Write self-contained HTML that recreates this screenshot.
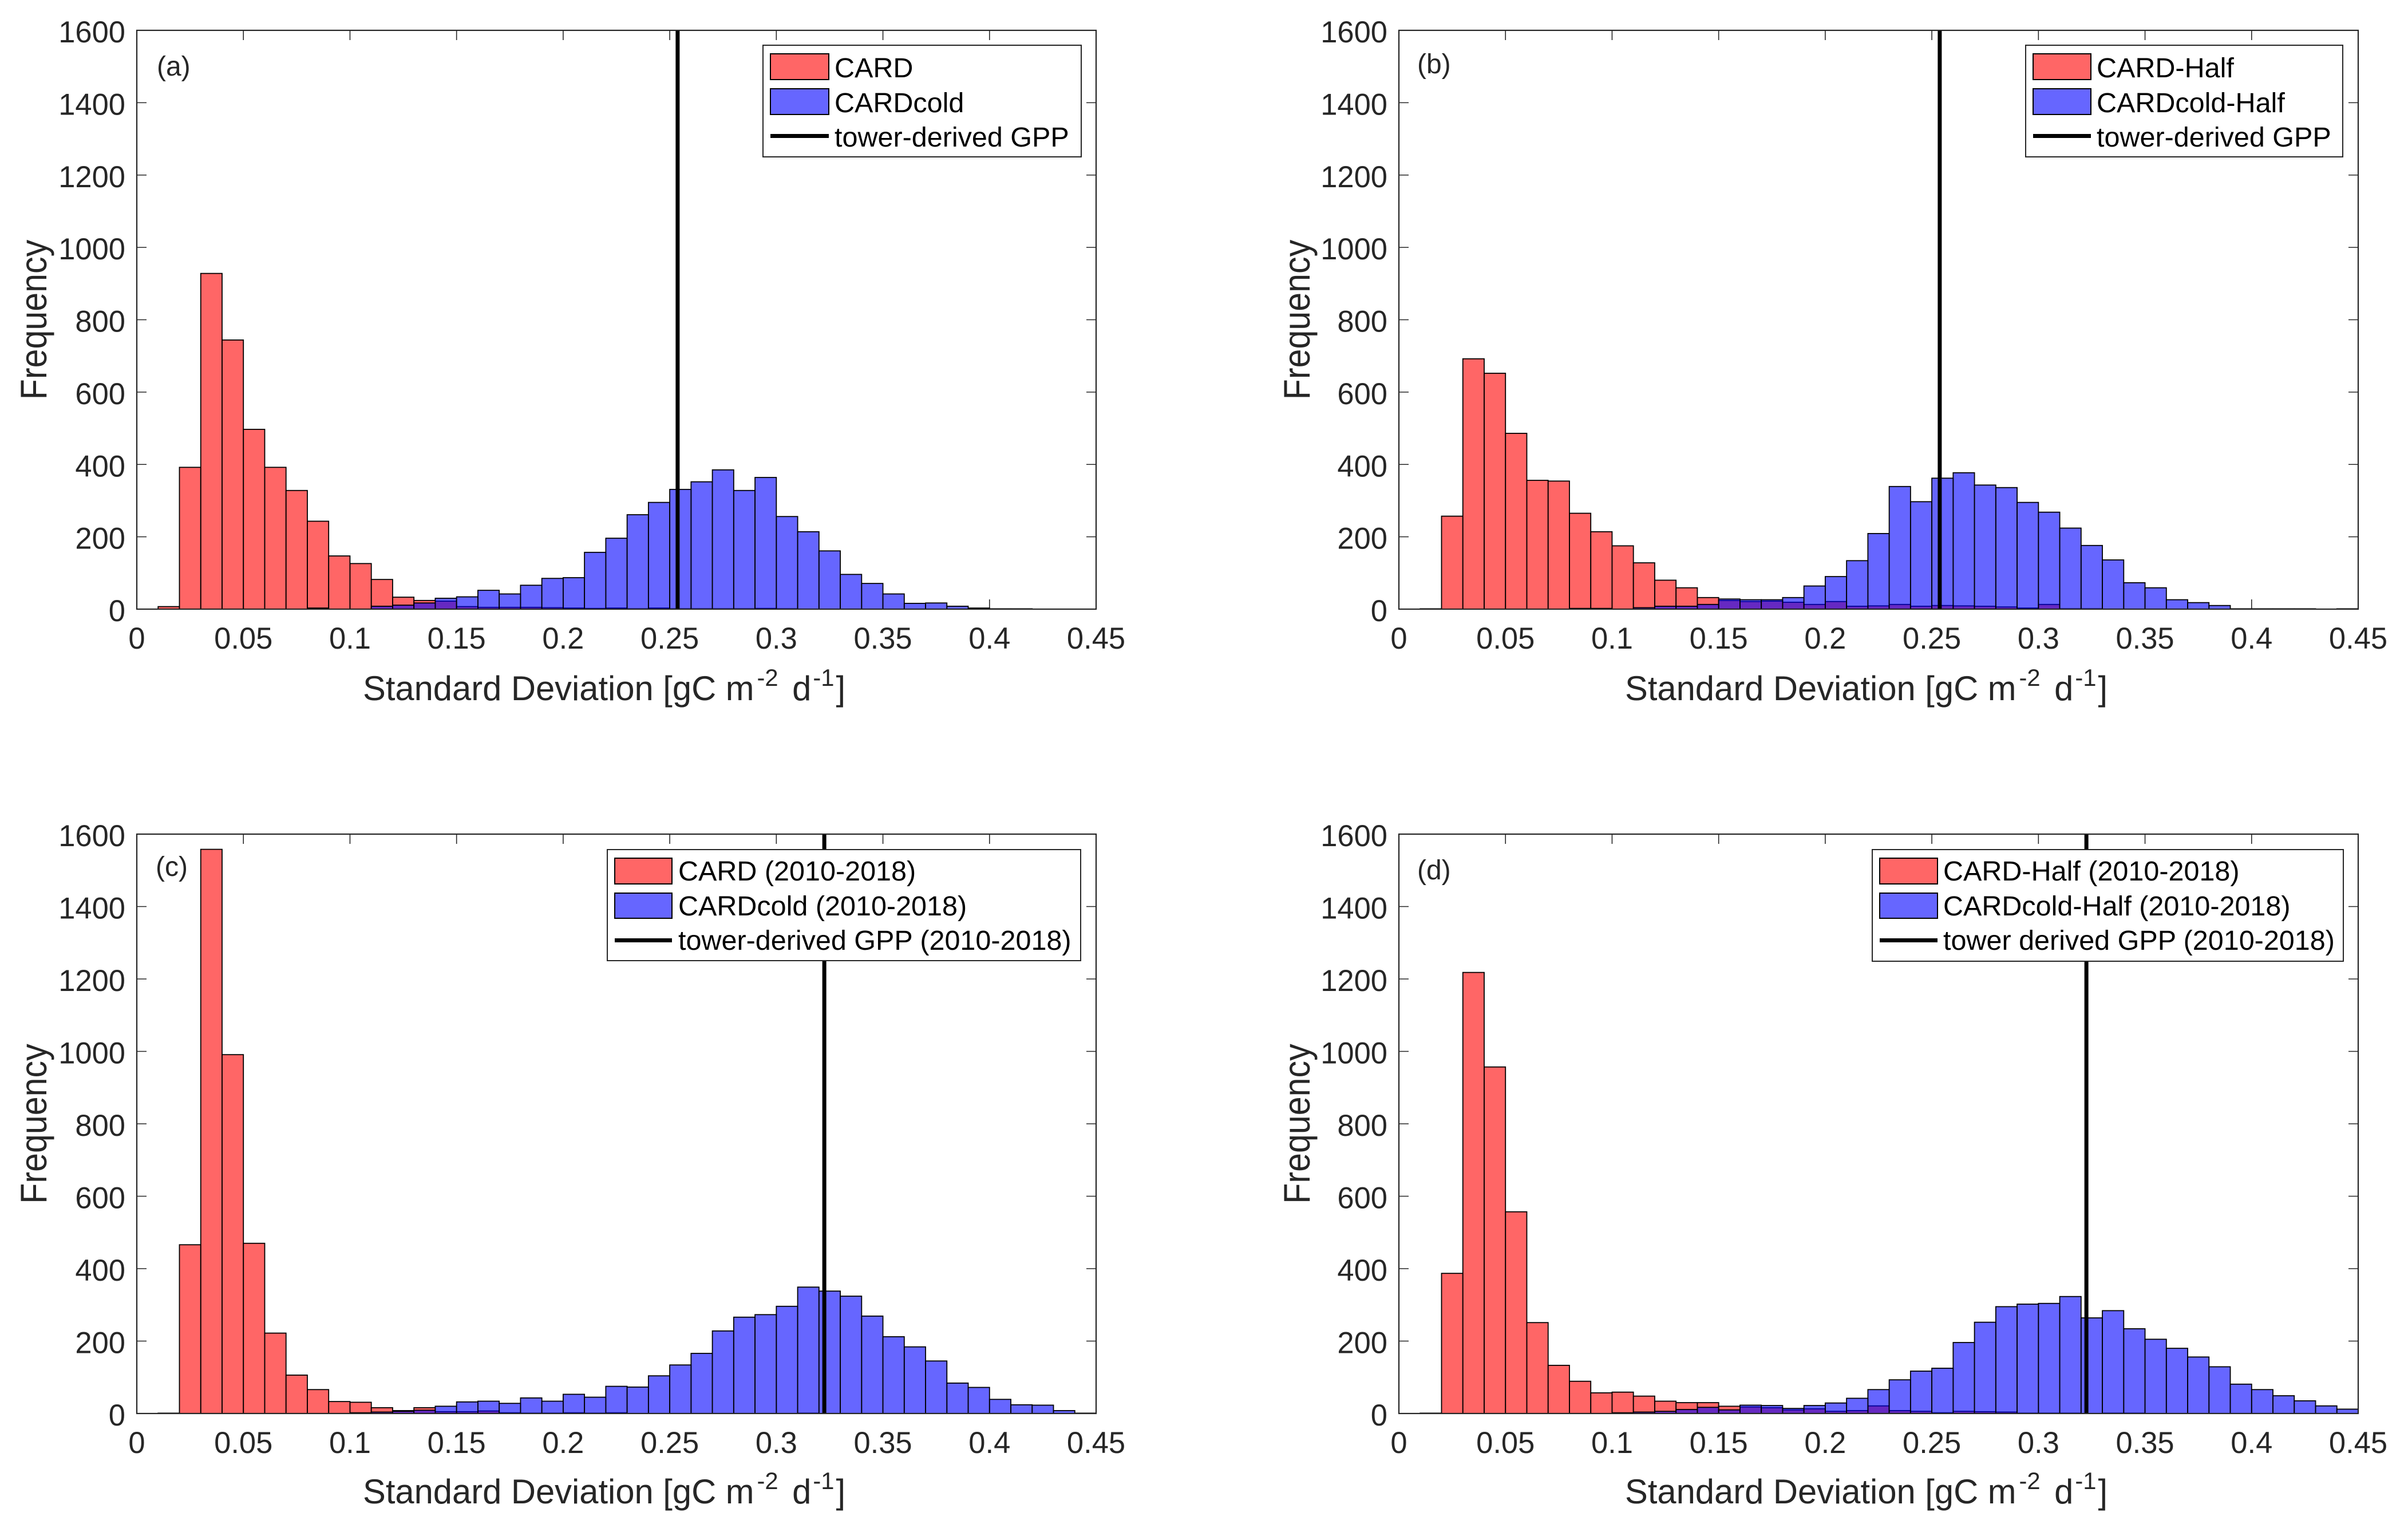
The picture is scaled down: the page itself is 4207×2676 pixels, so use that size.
<!DOCTYPE html>
<html lang="en">
<head>
<meta charset="utf-8">
<title>Standard deviation histograms</title>
<style>
html,body{margin:0;padding:0;background:#fff;}
svg{display:block;font-family:"Liberation Sans",sans-serif;}
.axis-text{fill:#262626;}
.legend-text{fill:#000;font-size:48.5px;}
.title-text{fill:#262626;font-size:60px;}
</style>
</head>
<body>
<svg id="figure" xmlns="http://www.w3.org/2000/svg" width="4207" height="2676" viewBox="0 0 4207 2676">
<rect x="0" y="0" width="4207" height="2676" fill="#fff"/>

<g id="panel-a">
  <g id="plot-a"></g>
  <text class="axis-text" x="274" y="132" font-size="48">(a)</text>
  <text class="axis-text" transform="translate(81,558.5) rotate(-90) scale(0.91,1)" text-anchor="middle" font-size="65">Frequency</text>
  <text class="title-text" transform="translate(634,1223) scale(0.995,1)">Standard Deviation [gC m<tspan dx="5" dy="-25" font-size="42">-2</tspan><tspan dx="8" dy="25"> d</tspan><tspan dx="3" dy="-25" font-size="42">-1</tspan><tspan dx="3" dy="25">]</tspan></text>
  <g>
    <rect x="1333" y="79" width="556" height="195" fill="#fff" stroke="#262626" stroke-width="2"/>
    <rect x="1346" y="94" width="102" height="45" fill="#ff6666" stroke="#000" stroke-width="2"/>
    <rect x="1346" y="155" width="102" height="45" fill="#6666ff" stroke="#000" stroke-width="2"/>
    <rect x="1346" y="234" width="102" height="7" fill="#000"/>
    <text class="legend-text" x="1458" y="135">CARD</text>
    <text class="legend-text" x="1458" y="196">CARDcold</text>
    <text class="legend-text" x="1458" y="256">tower-derived GPP</text>
  </g>
</g>

<g id="panel-b">
  <g id="plot-b"></g>
  <text class="axis-text" x="2476" y="128" font-size="48">(b)</text>
  <text class="axis-text" transform="translate(2288,558.5) rotate(-90) scale(0.91,1)" text-anchor="middle" font-size="65">Frequency</text>
  <text class="title-text" transform="translate(2839,1223) scale(0.995,1)">Standard Deviation [gC m<tspan dx="5" dy="-25" font-size="42">-2</tspan><tspan dx="8" dy="25"> d</tspan><tspan dx="3" dy="-25" font-size="42">-1</tspan><tspan dx="3" dy="25">]</tspan></text>
  <g>
    <rect x="3539" y="79" width="554" height="195" fill="#fff" stroke="#262626" stroke-width="2"/>
    <rect x="3552" y="94" width="101" height="45" fill="#ff6666" stroke="#000" stroke-width="2"/>
    <rect x="3552" y="155" width="101" height="45" fill="#6666ff" stroke="#000" stroke-width="2"/>
    <rect x="3552" y="234" width="101" height="7" fill="#000"/>
    <text class="legend-text" x="3663" y="135">CARD-Half</text>
    <text class="legend-text" x="3663" y="196">CARDcold-Half</text>
    <text class="legend-text" x="3663" y="256">tower-derived GPP</text>
  </g>
</g>

<g id="panel-c">
  <g id="plot-c"></g>
  <text class="axis-text" x="272" y="1530" font-size="48">(c)</text>
  <text class="axis-text" transform="translate(81,1963) rotate(-90) scale(0.91,1)" text-anchor="middle" font-size="65">Frequency</text>
  <text class="title-text" transform="translate(634,2626) scale(0.995,1)">Standard Deviation [gC m<tspan dx="5" dy="-25" font-size="42">-2</tspan><tspan dx="8" dy="25"> d</tspan><tspan dx="3" dy="-25" font-size="42">-1</tspan><tspan dx="3" dy="25">]</tspan></text>
  <g>
    <rect x="1061" y="1484" width="827" height="194" fill="#fff" stroke="#262626" stroke-width="2"/>
    <rect x="1074" y="1499" width="100" height="45" fill="#ff6666" stroke="#000" stroke-width="2"/>
    <rect x="1074" y="1560" width="100" height="44" fill="#6666ff" stroke="#000" stroke-width="2"/>
    <rect x="1074" y="1639" width="100" height="7" fill="#000"/>
    <text class="legend-text" x="1185" y="1538">CARD (2010-2018)</text>
    <text class="legend-text" x="1185" y="1599">CARDcold (2010-2018)</text>
    <text class="legend-text" x="1185" y="1659">tower-derived GPP (2010-2018)</text>
  </g>
</g>

<g id="panel-d">
  <g id="plot-d"></g>
  <text class="axis-text" x="2476" y="1536" font-size="48">(d)</text>
  <text class="axis-text" transform="translate(2288,1963) rotate(-90) scale(0.91,1)" text-anchor="middle" font-size="65">Frequency</text>
  <text class="title-text" transform="translate(2839,2626) scale(0.995,1)">Standard Deviation [gC m<tspan dx="5" dy="-25" font-size="42">-2</tspan><tspan dx="8" dy="25"> d</tspan><tspan dx="3" dy="-25" font-size="42">-1</tspan><tspan dx="3" dy="25">]</tspan></text>
  <g>
    <rect x="3271" y="1484" width="823" height="195" fill="#fff" stroke="#262626" stroke-width="2"/>
    <rect x="3284" y="1499" width="101" height="45" fill="#ff6666" stroke="#000" stroke-width="2"/>
    <rect x="3284" y="1560" width="101" height="44" fill="#6666ff" stroke="#000" stroke-width="2"/>
    <rect x="3284" y="1639" width="101" height="7" fill="#000"/>
    <text class="legend-text" x="3395" y="1538">CARD-Half (2010-2018)</text>
    <text class="legend-text" x="3395" y="1599">CARDcold-Half (2010-2018)</text>
    <text class="legend-text" x="3395" y="1659">tower derived GPP (2010-2018)</text>
  </g>
</g>
</svg>

<script>
const binStarts = [0.01,0.02,0.03,0.04,0.05,0.06,0.07,0.08,0.09,0.10,0.11,0.12,0.13,0.14,0.15,0.16,0.17,0.18,0.19,0.20,0.21,0.22,0.23,0.24,0.25,0.26,0.27,0.28,0.29,0.30,0.31,0.32,0.33,0.34,0.35,0.36,0.37,0.38,0.39,0.40,0.41,0.42,0.43,0.44];
const binWidth = 0.01;
const xTicks = [0,0.05,0.1,0.15,0.2,0.25,0.3,0.35,0.4,0.45];
const xTickLabels = ["0","0.05","0.1","0.15","0.2","0.25","0.3","0.35","0.4","0.45"];
const yTicks = [0,200,400,600,800,1000,1200,1400,1600];
const yTickLabels = ["0","200","400","600","800","1000","1200","1400","1600"];
const xMax = 0.45;
const yMax = 1600;

const cardA = [7,392,928,744,497,392,328,243,147,126,82,33,24,22,7,5,5,5,4,3,2,3,1,3,1,1,1,1,2,1,0,0,0,0,0,0,0,0,0,0,0,0,0,0];
const coldA = [0,0,0,0,0,0,0,3,0,0,8,11,17,30,34,52,42,66,85,87,157,196,261,295,331,352,385,328,364,256,214,161,96,71,42,16,17,8,3,1,1,0,0,0];
const cardB = [1,257,692,652,486,356,354,265,214,175,128,80,59,32,24,21,22,19,13,21,8,9,13,8,10,9,8,6,3,13,1,1,0,0,0,0,0,0,0,0,0,0,0,0];
const coldB = [0,0,0,0,0,0,0,2,2,0,4,8,8,13,28,26,26,32,64,90,134,209,339,297,362,377,343,336,295,268,224,176,136,73,59,26,18,10,1,1,1,1,0,1];
const cardC = [1,466,1558,991,470,222,106,66,33,31,16,8,16,5,5,7,2,1,1,2,1,2,0,0,0,0,0,0,0,0,1,0,0,0,0,0,0,0,0,0,0,0,0,0];
const coldC = [0,0,0,0,0,0,0,0,0,2,4,6,9,20,32,34,28,43,34,53,45,75,73,104,134,166,228,266,273,296,349,338,324,269,212,184,145,84,72,39,24,23,8,1];
const cardD = [1,387,1218,957,557,251,133,89,57,59,48,34,30,30,20,18,16,10,13,6,8,21,8,6,2,6,5,4,1,1,1,0,1,1,0,0,0,0,0,0,0,0,0,0];
const coldD = [0,0,0,0,0,0,0,0,0,2,4,6,11,17,10,23,22,14,22,29,42,66,93,117,125,196,252,295,302,304,323,264,284,234,205,180,156,129,81,66,49,35,21,12];
const towerGpp = [0.2537,0.2537,0.3225,0.3225];

const panelIds = ["a","b","c","d"];
const panelCard = [cardA,cardB,cardC,cardD];
const panelCold = [coldA,coldB,coldC,coldD];
const panelLeft = [239,2444,239,2444];
const panelRight = [1915,4120,1915,4120];
const panelTop = [53,53,1457,1457];
const panelBottom = [1064,1064,2469,2469];

const svgNS = "http://www.w3.org/2000/svg";
const tickLength = 17;

function makeEl(tag, parent) {
  const el = document.createElementNS(svgNS, tag);
  parent.appendChild(el);
  return el;
}

function drawLine(parent, x1, y1, x2, y2, color, width) {
  const el = makeEl("line", parent);
  el.setAttribute("x1", x1);
  el.setAttribute("y1", y1);
  el.setAttribute("x2", x2);
  el.setAttribute("y2", y2);
  el.setAttribute("stroke", color);
  el.setAttribute("stroke-width", width);
  return el;
}

function drawBars(parent, values, xScale, yScale, fill, seriesName) {
  const group = makeEl("g", parent);
  
  
  values.forEach(function (value, i) {
    if (value <= 0) return;
    const bar = makeEl("rect", group);
    
    
    const x0 = xScale(binStarts[i]);
    const x1 = xScale(binStarts[i] + binWidth);
    bar.setAttribute("x", x0);
    bar.setAttribute("y", yScale(value));
    bar.setAttribute("width", x1 - x0);
    bar.setAttribute("height", yScale(0) - yScale(value));
    bar.setAttribute("fill", fill);
    bar.setAttribute("fill-opacity", "0.6");
    bar.setAttribute("stroke", "#000");
    bar.setAttribute("stroke-width", "1.8");
  });
}

panelIds.forEach(function (id, p) {
  const plot = document.getElementById("plot-" + id);
  const left = panelLeft[p], right = panelRight[p], top = panelTop[p], bottom = panelBottom[p];
  const xScale = function (v) { return left + (v / xMax) * (right - left); };
  const yScale = function (v) { return bottom - (v / yMax) * (bottom - top); };

  xTicks.forEach(function (t, i) {
    const x = xScale(t);
    const tickB = drawLine(plot, x, bottom, x, bottom - tickLength, "#262626", 1.6);
    
    
    const tickT = drawLine(plot, x, top, x, top + tickLength, "#262626", 1.6);
    
    
    const label = makeEl("text", plot);
    
    
    label.setAttribute("class", "axis-text");
    label.setAttribute("x", x);
    label.setAttribute("y", bottom + 69);
    label.setAttribute("text-anchor", "middle");
    label.setAttribute("font-size", "52.5");
    label.textContent = xTickLabels[i];
  });

  yTicks.forEach(function (t, i) {
    const y = yScale(t);
    const tickL = drawLine(plot, left, y, left + tickLength, y, "#262626", 1.6);
    
    
    const tickR = drawLine(plot, right, y, right - tickLength, y, "#262626", 1.6);
    
    
    const label = makeEl("text", plot);
    
    
    label.setAttribute("class", "axis-text");
    label.setAttribute("x", left - 20);
    label.setAttribute("y", y + 21);
    label.setAttribute("text-anchor", "end");
    label.setAttribute("font-size", "52.5");
    label.textContent = yTickLabels[i];
  });

  drawBars(plot, panelCard[p], xScale, yScale, "rgb(255,0,0)", "card-series");
  drawBars(plot, panelCold[p], xScale, yScale, "rgb(0,0,255)", "cardcold-series");

  const gpp = drawLine(plot, xScale(towerGpp[p]), top, xScale(towerGpp[p]), bottom, "#000", 7);
  
  

  const frame = makeEl("rect", plot);
  
  
  frame.setAttribute("x", left);
  frame.setAttribute("y", top);
  frame.setAttribute("width", right - left);
  frame.setAttribute("height", bottom - top);
  frame.setAttribute("fill", "none");
  frame.setAttribute("stroke", "#262626");
  frame.setAttribute("stroke-width", "2.2");
});
</script>
</body>
</html>
